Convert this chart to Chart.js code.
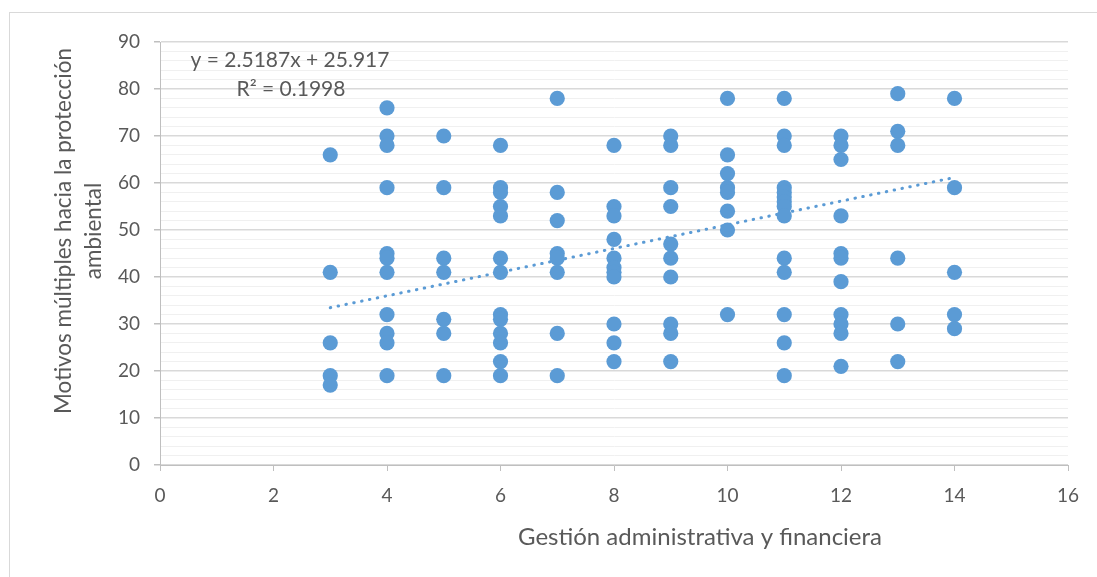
<!DOCTYPE html>
<html>
<head>
<meta charset="utf-8">
<script src="https://cdn.jsdelivr.net/npm/chart.js@4.4.0/dist/chart.umd.min.js"></script>
<style>
    html, body { margin: 0; padding: 0; background: #fff; }
    #wrap { width: 1097px; height: 577px; }
</style>
</head>
<body>
<div id="wrap"><canvas id="chartScatter" width="1097" height="577"></canvas></div>
<script>
    // valores leidos por columna (x = Gestión administrativa y financiera)
    const xCols = [3, 4, 5, 6, 7, 8, 9, 10, 11, 12, 13, 14];
    const yCol3 = [66, 41, 26, 19, 17];
    const yCol4 = [76, 70, 68, 59, 45, 44, 41, 32, 28, 26, 19];
    const yCol5 = [70, 59, 44, 41, 31, 28, 19];
    const yCol6 = [68, 59, 58, 55, 53, 44, 41, 32, 31, 28, 26, 22, 19];
    const yCol7 = [78, 58, 52, 45, 44, 41, 28, 19];
    const yCol8 = [68, 55, 53, 48, 44, 42, 41, 40, 30, 26, 22];
    const yCol9 = [70, 68, 59, 55, 47, 44, 40, 30, 28, 22];
    const yCol10 = [78, 66, 62, 59, 58, 54, 50, 32];
    const yCol11 = [78, 70, 68, 59, 58, 57, 56, 55, 53, 44, 41, 32, 26, 19];
    const yCol12 = [70, 68, 65, 53, 45, 44, 39, 32, 30, 28, 21];
    const yCol13 = [79, 71, 68, 44, 30, 22];
    const yCol14 = [78, 59, 41, 32, 29];

    // linea de tendencia (Excel)
    const trendSlope = 2.5187;
    const trendIntercept = 25.917;
    const trendRange = [3, 14];

    const xTicks = [0, 2, 4, 6, 8, 10, 12, 14, 16];
    const yMajor = [0, 10, 20, 30, 40, 50, 60, 70, 80, 90];

    const txtColor = '#595959';
    const fontName = 'Lato, "Open Sans", sans-serif';

    let allCols = [yCol3, yCol4, yCol5, yCol6, yCol7, yCol8, yCol9, yCol10, yCol11, yCol12, yCol13, yCol14];
    let points = [];
    for (let i = 0; i < xCols.length; i++) {
        for (let v of allCols[i]) {
            points.push({ x: xCols[i], y: v });
        }
    }

    let trendPts = trendRange.map(function (x) {
        return { x: x, y: trendSlope * x + trendIntercept };
    });

    const frameAndText = {
        id: 'frameAndText',
        beforeDraw: function (chart) {
            const ctx = chart.ctx;
            ctx.save();
            ctx.fillStyle = '#fff';
            ctx.fillRect(0, 0, chart.width, chart.height);
            ctx.strokeStyle = '#D9D9D9';
            ctx.lineWidth = 1;
            ctx.strokeRect(9.5, 12.5, 1200, 700);
            ctx.restore();
        },
        afterDraw: function (chart) {
            const ctx = chart.ctx;
            ctx.save();
            ctx.fillStyle = txtColor;
            ctx.textAlign = 'center';
            ctx.textBaseline = 'middle';

            ctx.font = '24px ' + fontName;
            ctx.fillText('Gestión administrativa y financiera', 700, 537);

            ctx.font = '22.5px ' + fontName;
            ctx.save();
            ctx.translate(64, 231);
            ctx.rotate(-Math.PI / 2);
            ctx.fillText('Motivos múltiples hacia la protección', 0, 0);
            ctx.restore();
            ctx.save();
            ctx.translate(94, 231);
            ctx.rotate(-Math.PI / 2);
            ctx.fillText('ambiental', 0, 0);
            ctx.restore();

            ctx.font = '21px ' + fontName;
            ctx.fillText('y = 2.5187x + 25.917', 290, 60);
            ctx.fillText('R² = 0.1998', 291, 89);
            ctx.restore();
        }
    };

    let ctx1 = document.getElementById('chartScatter').getContext('2d');
    let scatterChart = new Chart(ctx1, {
        type: 'scatter',
        data: {
            datasets: [
                {
                    label: 'Datos',
                    data: points,
                    backgroundColor: '#5B9BD5',
                    borderWidth: 0,
                    pointRadius: 7.6,
                    pointHoverRadius: 7.6
                },
                {
                    label: 'Lineal',
                    type: 'line',
                    data: trendPts,
                    borderColor: '#5B9BD5',
                    borderWidth: 3,
                    borderDash: [0.5, 7.5],
                    borderCapStyle: 'round',
                    pointRadius: 0,
                    fill: false
                }
            ]
        },
        plugins: [frameAndText],
        options: {
            responsive: false,
            animation: false,
            layout: {
                padding: { left: 0, top: 42, right: 29, bottom: 0 }
            },
            plugins: {
                legend: { display: false },
                tooltip: { enabled: false }
            },
            scales: {
                x: {
                    type: 'linear',
                    min: 0,
                    max: 16,
                    afterFit: function (scale) { scale.height = 112; },
                    afterBuildTicks: function (scale) {
                        scale.ticks = xTicks.map(function (v) { return { value: v }; });
                    },
                    ticks: {
                        color: txtColor,
                        font: { size: 19, family: fontName },
                        padding: 13,
                        maxRotation: 0
                    },
                    grid: {
                        drawOnChartArea: false,
                        drawTicks: true,
                        tickLength: 6,
                        tickColor: '#BFBFBF'
                    },
                    border: { color: '#BFBFBF', width: 1 }
                },
                y: {
                    type: 'linear',
                    min: 0,
                    max: 90,
                    afterFit: function (scale) { scale.width = 160; },
                    ticks: {
                        stepSize: 2,
                        autoSkip: false,
                        color: txtColor,
                        font: { size: 19, family: fontName },
                        padding: 14,
                        callback: function (value) {
                            return yMajor.indexOf(value) >= 0 ? value : '';
                        }
                    },
                    grid: {
                        tickLength: 6,
                        color: function (c) {
                            return (c.tick && c.tick.value % 10 === 0) ? '#D9D9D9' : '#F0F0F0';
                        },
                        lineWidth: function (c) {
                            return (c.tick && c.tick.value % 10 === 0) ? 1.5 : 1;
                        },
                        tickColor: function (c) {
                            return (c.tick && c.tick.value % 10 === 0) ? '#BFBFBF' : 'rgba(0,0,0,0)';
                        }
                    },
                    border: { color: '#BFBFBF', width: 1 }
                }
            }
        }
    });
</script>
</body>
</html>
